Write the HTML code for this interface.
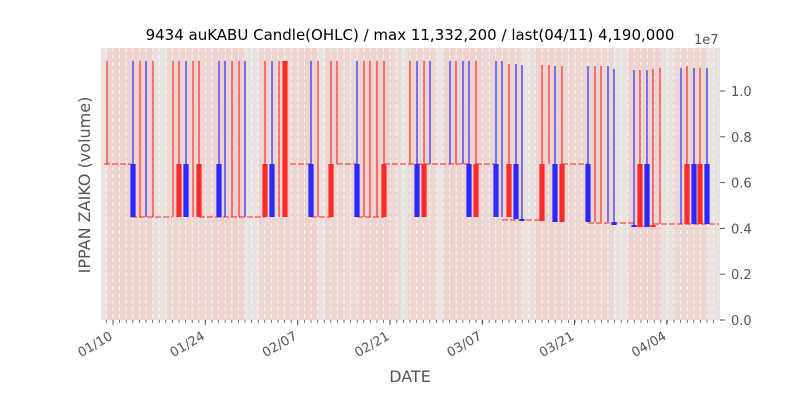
<!DOCTYPE html>
<html><head><meta charset="utf-8"><style>
html,body{margin:0;padding:0;background:#fff;}
svg{display:block;font-family:"DejaVu Sans","Liberation Sans",sans-serif;}
</style></head><body>
<svg id="s" width="800" height="400" viewBox="0 0 800 400" xmlns="http://www.w3.org/2000/svg">
<rect x="101" y="48" width="619" height="272" fill="#e9d8d4"/>
<g id="bands"></g>
<g id="grid"></g>
<g id="flat"></g>
<g id="cand"></g>
<g id="axes"></g>
<text x="410" y="40" text-anchor="middle" font-size="15" fill="#000">9434 auKABU Candle(OHLC) / max 11,332,200 / last(04/11) 4,190,000</text>
<text x="694" y="44" font-size="13" fill="#555">1e7</text>
<text x="410" y="382" text-anchor="middle" font-size="16" fill="#555">DATE</text>
<text transform="translate(90,185) rotate(-90)" text-anchor="middle" font-size="16" fill="#555">IPPAN ZAIKO (volume)</text>
</svg>
<script>
const NS="http://www.w3.org/2000/svg";
function el(p,t,a){const e=document.createElementNS(NS,t);for(const k in a)e.setAttribute(k,a[k]);document.getElementById(p).appendChild(e);return e;}
const dark=[[108,153],[167,205],[212,245],[258,296],[300,318],[325,345],[360,392],[408,437],[443,483],[488,523],[535,562],[567,615],[628,662],[673,708]];
dark.forEach((b,i)=>el("bands","rect",{x:b[0],y:48,width:b[1]-b[0],height:272,fill:i%2?"#ebd6d2":"#ecd3cf"}));
[[101,106],[153,167],[245,258],[318,325],[400,408],[437,443],[523,535],[615,628],[662,673],[708,720]].forEach(b=>el("bands","rect",{x:b[0],y:48,width:b[1]-b[0],height:272,fill:"#e8e3df"}));
for(let x=113-6.6;x<720;x+=6.6){el("grid","line",{x1:x,y1:48,x2:x,y2:320,stroke:"#fff","stroke-width":0.9,"stroke-dasharray":"4,3",opacity:0.85});
 el("axes","line",{x1:x,y1:320,x2:x,y2:323,stroke:"#555","stroke-width":0.8});}
const lab=["01/10","01/24","02/07","02/21","03/07","03/21","04/04"];
lab.forEach((l,i)=>{const x=113+i*92.3;el("axes","line",{x1:x,y1:320,x2:x,y2:325,stroke:"#555","stroke-width":1});
 const t=el("axes","text",{transform:`translate(${x-4},${331}) rotate(-30)`,"text-anchor":"end","font-size":"13",fill:"#555","dominant-baseline":"hanging"});t.textContent=l;});
["0.0","0.2","0.4","0.6","0.8","1.0"].forEach((l,i)=>{const y=320-i*45.8;el("axes","line",{x1:720,y1:y,x2:725,y2:y,stroke:"#555","stroke-width":1});
 const t=el("axes","text",{x:731,y:y+5,"font-size":"13",fill:"#555"});t.textContent=l;});
const R="#ff2a2a",B="#2a2aff";
[[104,131,164],[131,172,217],[199,265,217],[290,311,164],[311,331,217],[337,357,164],[357,384,217],[384,470,164],[476,496,164],[502,542,220],[562,588,164],[588,634,223],[634,653,226],[653,719,224]].forEach(f=>el("flat","line",{x1:f[0],y1:f[2],x2:f[1],y2:f[2],stroke:R,"stroke-width":1.1,"stroke-dasharray":"6,2"}));
const C=[[107,R,61,164,164],[133,B,61,164,217],[140,R,61,217,217],[146,B,61,217,217],[153,R,61,217,217],[173,R,61,217,217],[179,R,61,164,217],[186,B,61,164,217],[193,R,61,217,217],[199,R,61,164,217],[219,B,61,164,217],[225,B,61,217,217],[232,R,61,217,217],[239,R,61,217,217],[245,B,61,217,217],[265,R,61,164,217],[272,B,61,164,217],[279,R,61,217,217],[285,R,61,61,217],[311,B,61,164,217],[318,R,61,217,217],[331,R,61,164,217],[337,R,61,164,164],[357,B,61,164,217],[364,R,61,217,217],[370,R,61,217,217],[377,R,61,217,217],[384,R,61,164,217],[410,R,61,164,164],[417,B,61,164,217],[424,R,61,164,217],[430,B,61,164,164],[450,B,61,164,164],[456,R,61,164,164],[463,B,61,164,164],[469,B,61,164,217],[476,R,61,164,217],[496,B,61,164,217],[502,B,61,217,217],[509,R,64,164,217],[516,B,64,164,219],[522,B,65,219,221],[542,R,65,164,221],[549,R,65,164,164],[555,B,66,164,222],[562,R,66,164,222],[588,B,66,164,222],[595,R,66,222,222],[601,R,66,222,222],[608,B,66,222,222],[614,B,69,222,225],[634,B,70,225,227],[640,R,70,164,227],[647,B,70,164,227],[653,R,69,225,227],[660,R,68,224,224],[681,B,68,224,224],[687,R,66,164,224],[694,B,68,164,224],[700,R,68,164,224],[707,B,68,164,224]];
C.forEach(c=>{el("cand","line",{x1:c[0],y1:c[2],x2:c[0],y2:c[4],stroke:c[1],"stroke-width":1.2});
 if(c[4]-c[3]>0.5)el("cand","rect",{x:c[0]-2.6,y:c[3],width:5.2,height:c[4]-c[3],fill:c[1]});});
</script>
</body></html>
